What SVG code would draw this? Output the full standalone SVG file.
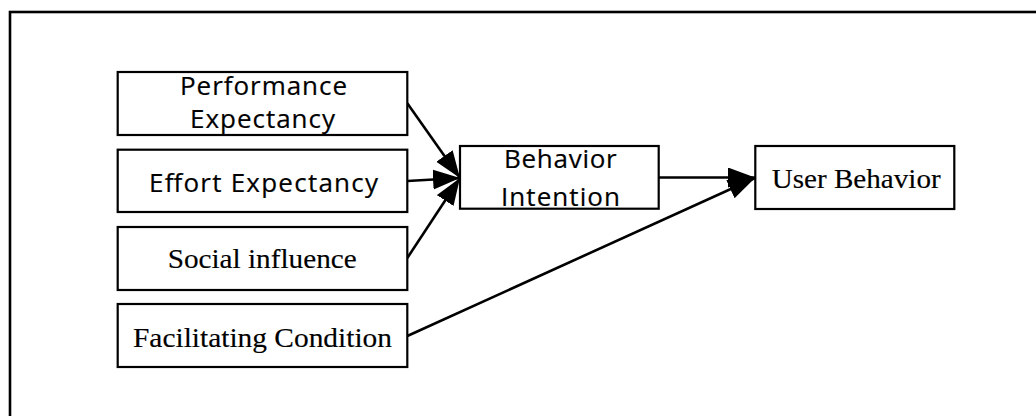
<svg xmlns="http://www.w3.org/2000/svg" width="1036" height="416" viewBox="0 0 1036 416">
<defs>
<style>
.box{fill:#fff;stroke:#000;stroke-width:2.2}
.sans{font-family:"Open Sans","Liberation Sans",sans-serif;font-size:26px;fill:#000;stroke:#000;stroke-width:0.2}
.serif{font-family:"Liberation Serif","Times New Roman",serif;font-size:27px;fill:#000;stroke:#000;stroke-width:0.15}
.edge{stroke:#000;stroke-width:2.6;fill:none;marker-end:url(#ah)}
</style>
<marker id="ah" markerUnits="userSpaceOnUse" markerWidth="28" markerHeight="22" refX="27" refY="10" orient="auto">
<path d="M0,0 L27,10 L0,20 z" fill="#000"/>
</marker>
</defs>
<rect x="0" y="0" width="1036" height="416" fill="#fff"/>
<rect x="10" y="12" width="1040" height="420" fill="none" stroke="#000" stroke-width="2.6"/>
<g id="connectors">
<line class="edge" x1="407.3" y1="103.3" x2="460" y2="178"/>
<line class="edge" x1="407.3" y1="181" x2="460" y2="178"/>
<line class="edge" x1="407.3" y1="258" x2="460" y2="178"/>
<line class="edge" x1="658.7" y1="177.5" x2="755" y2="177.5"/>
<line class="edge" x1="407.3" y1="336" x2="755" y2="178"/>
</g>
<g id="performance-expectancy">
<rect class="box" x="117.7" y="72" width="289.6" height="63"/>
<text class="sans" x="180" y="95" textLength="167" lengthAdjust="spacing">Performance</text>
<text class="sans" x="190" y="128" textLength="145" lengthAdjust="spacing">Expectancy</text>
</g>
<g id="effort-expectancy">
<rect class="box" x="117.7" y="149.7" width="289.6" height="62.3"/>
<text class="sans" x="149" y="191.7" textLength="229" lengthAdjust="spacing">Effort Expectancy</text>
</g>
<g id="social-influence">
<rect class="box" x="117.7" y="227" width="289.6" height="63"/>
<text class="serif" x="167.7" y="268.3" textLength="189" lengthAdjust="spacingAndGlyphs">Social influence</text>
</g>
<g id="facilitating-condition">
<rect class="box" x="117.7" y="304" width="289.6" height="63"/>
<text class="serif" x="133" y="346.7" textLength="259" lengthAdjust="spacingAndGlyphs">Facilitating Condition</text>
</g>
<g id="behavior-intention">
<rect class="box" x="460" y="146" width="198.7" height="62.7"/>
<text class="sans" x="504" y="168.3" textLength="112.7" lengthAdjust="spacing">Behavior</text>
<text class="sans" x="501" y="206" textLength="119" lengthAdjust="spacing">Intention</text>
</g>
<g id="user-behavior">
<rect class="box" x="755.3" y="146" width="199" height="63"/>
<text class="serif" x="771.7" y="188.3" textLength="169" lengthAdjust="spacingAndGlyphs">User Behavior</text>
</g>
</svg>
